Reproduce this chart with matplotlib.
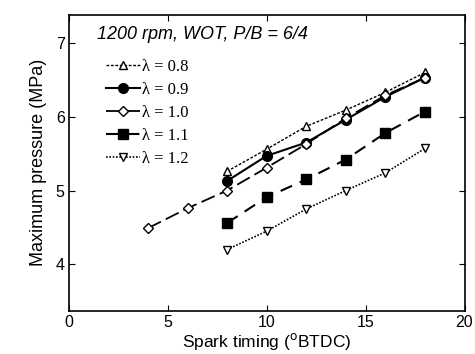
import numpy as np
import matplotlib
matplotlib.use('Agg')
import matplotlib.pyplot as plt

plt.rcParams['font.family'] = ['Liberation Sans', 'DejaVu Sans']

# spark timing (deg BTDC) and maximum pressure (MPa) per lambda
x_08 = [8, 10, 12, 14, 16, 18]
p_08 = [5.26, 5.56, 5.87, 6.09, 6.33, 6.60]
x_09 = [8, 10, 12, 14, 16, 18]
p_09 = [5.13, 5.47, 5.65, 5.96, 6.27, 6.53]
x_10 = [4, 6, 8, 10, 12, 14, 16, 18]
p_10 = [4.49, 4.76, 5.00, 5.31, 5.63, 5.98, 6.29, 6.53]
x_11 = [8, 10, 12, 14, 16, 18]
p_11 = [4.56, 4.91, 5.15, 5.42, 5.78, 6.07]
x_12 = [8, 10, 12, 14, 16, 18]
p_12 = [4.20, 4.45, 4.75, 5.00, 5.24, 5.57]

labels = ['λ = 0.8', 'λ = 0.9', 'λ = 1.0', 'λ = 1.1', 'λ = 1.2']

fig = plt.figure(figsize=(4.75, 3.54), dpi=100)
ax = fig.add_axes([0.145, 0.122, 0.833, 0.836])

ax.plot(x_08, p_08, linestyle=(0, (2, 1.2)), color='black', lw=1.0,
        marker='^', ms=6, mfc='white', mec='black', label=labels[0], zorder=3)
ax.plot(x_09, p_09, linestyle='-', color='black', lw=1.5,
        marker='o', ms=7, mfc='black', mec='black', label=labels[1], zorder=4)
ax.plot(x_10, p_10, linestyle=(0, (8, 3)), color='black', lw=1.3,
        marker='D', ms=5, mfc='white', mec='black', label=labels[2], zorder=5)
ax.plot(x_11, p_11, linestyle=(0, (6, 4)), color='black', lw=1.5,
        marker='s', ms=7, mfc='black', mec='black', label=labels[3], zorder=3)
ax.plot(x_12, p_12, linestyle=(0, (1, 1)), color='black', lw=1.2,
        marker='v', ms=6, mfc='white', mec='black', label=labels[4], zorder=3)

ax.set_xlim(0, 20)
ax.set_ylim(3.37, 7.38)
ax.set_xticks([0, 5, 10, 15, 20])
ax.set_yticks([4, 5, 6, 7])
ax.tick_params(direction='in', top=True, right=True, labelsize=11.5,
               length=4, pad=3)
for s in ax.spines.values():
    s.set_linewidth(1.2)

ax.set_xlabel('Spark timing ($^{\\rm o}$BTDC)', fontsize=12.5, labelpad=1)
ax.set_ylabel('Maximum pressure (MPa)', fontsize=13, labelpad=6)

ax.text(1.4, 7.11, '1200 rpm, WOT, P/B = 6/4', fontsize=13, style='italic',
        va='center', ha='left')

leg = ax.legend(loc='upper left', bbox_to_anchor=(0.095, 0.85), frameon=False,
                prop={'family': 'Liberation Serif', 'size': 12},
                handlelength=2.0, handletextpad=0.15, labelspacing=0.42,
                borderaxespad=0, borderpad=0)

fig.savefig('out.png', dpi=100)
